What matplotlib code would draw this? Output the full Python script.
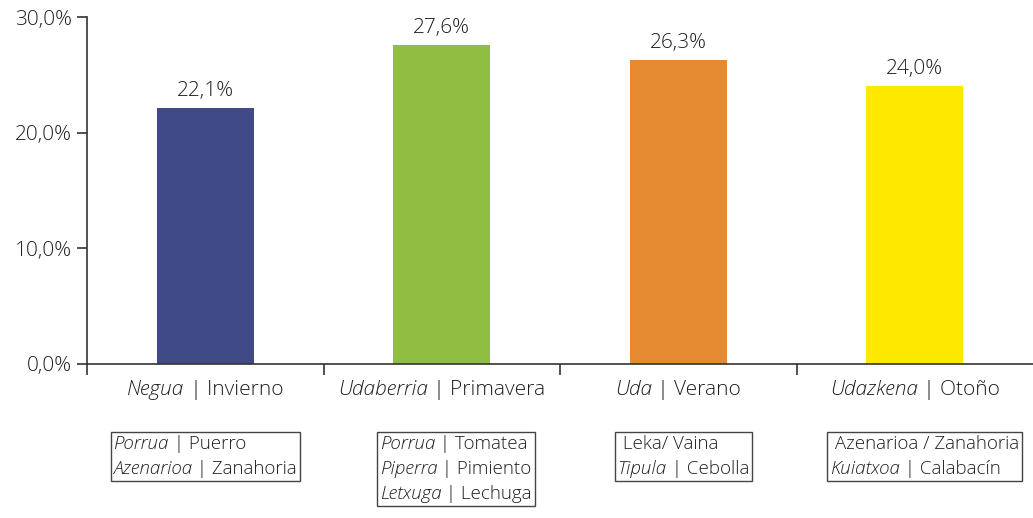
import matplotlib.pyplot as plt
from matplotlib.offsetbox import TextArea, HPacker, VPacker, AnnotationBbox
from matplotlib.ticker import FixedLocator, FuncFormatter

plt.rcParams['font.family'] = ['Open Sans', 'DejaVu Sans']
plt.rcParams['font.weight'] = 'light'

seasons_eu = ['Negua', 'Udaberria', 'Uda', 'Udazkena']
seasons_es = ['Invierno', 'Primavera', 'Verano', 'Otoño']
values = [22.1, 27.6, 26.3, 24.0]
colors = ['#3F4A86', '#8FBE42', '#E68A31', '#FFE800']

# (italic part, regular part) per line
vegetables = [
    [('Porrua', ' | Puerro'), ('Azenarioa', ' | Zanahoria')],
    [('Porrua', ' | Tomatea'), ('Piperra', ' | Pimiento'), ('Letxuga', ' | Lechuga')],
    [('', ' Leka/ Vaina'), ('Tipula', ' | Cebolla')],
    [('', ' Azenarioa / Zanahoria'), ('Kuiatxoa', ' | Calabacín')],
]
yticks = [0, 10, 20, 30]

txt = '#1f1f1f'
fig = plt.figure(figsize=(10.33, 5.18), dpi=100)
ax = fig.add_axes([87 / 1033, 1 - 364 / 518, 1 - 87 / 1033, 347 / 518])

x = list(range(len(values)))
ax.bar(x, values, width=0.41, color=colors)
for xi, v in zip(x, values):
    ax.text(xi, v + 0.6, f'{v:.1f}%'.replace('.', ','), ha='center', va='bottom',
            fontsize=15, color=txt)

ax.set_xlim(-0.5, 3.5)
ax.set_ylim(0, 30)
ax.set_yticks(yticks)
ax.yaxis.set_major_formatter(FuncFormatter(lambda v, p: f'{v:.1f}%'.replace('.', ',')))
ax.tick_params(axis='y', length=7, width=1.2, color='#333333', labelsize=15, labelcolor=txt, pad=4)
ax.set_xticks([])
ax.xaxis.set_minor_locator(FixedLocator([-0.5, 0.5, 1.5, 2.5]))
ax.tick_params(axis='x', which='minor', length=8, width=1.2, color='#333333')
for s in ['top', 'right']:
    ax.spines[s].set_visible(False)
for s in ['left', 'bottom']:
    ax.spines[s].set_color('#333333')
    ax.spines[s].set_linewidth(1.2)


def mixed_line(it, reg, size):
    parts = []
    if it:
        parts.append(TextArea(it, textprops=dict(style='italic', fontsize=size, color=txt)))
    parts.append(TextArea(reg, textprops=dict(fontsize=size, color=txt)))
    return HPacker(children=parts, pad=0, sep=0, align='baseline')


box_shift = [0, 14, 5, 10]  # pixel nudges of the legend boxes
for xi, eu, es, veg, dx in zip(x, seasons_eu, seasons_es, vegetables, box_shift):
    lab = mixed_line(eu, ' | ' + es, 15)
    ax.add_artist(AnnotationBbox(lab, (xi, -0.075), xycoords=('data', 'axes fraction'),
                                 box_alignment=(0.5, 0.5), frameon=False, annotation_clip=False))
    lines = [mixed_line(a, b, 13.5) for a, b in veg]
    box = VPacker(children=lines, pad=0, sep=5, align='left')
    ab = AnnotationBbox(box, (xi, -0.205), xycoords=('data', 'axes fraction'),
                        xybox=(dx * 0.72, 0), boxcoords='offset points',
                        box_alignment=(0.5, 1), frameon=True, pad=0.2,
                        annotation_clip=False,
                        bboxprops=dict(edgecolor='#444444', linewidth=1, facecolor='white'))
    ax.add_artist(ab)

fig.savefig('out.png', dpi=100)
